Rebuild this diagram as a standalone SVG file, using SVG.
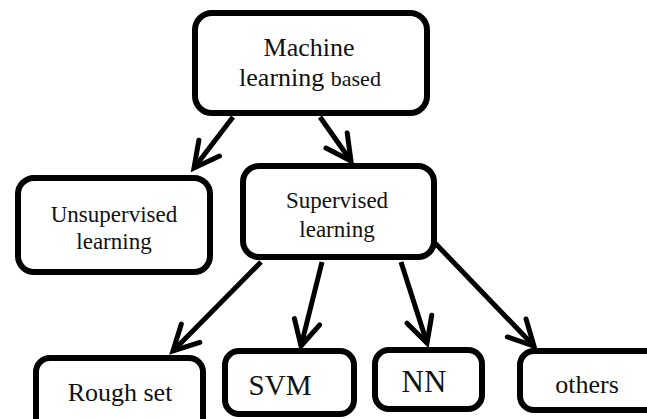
<svg xmlns="http://www.w3.org/2000/svg" width="647" height="419" viewBox="0 0 647 419">
<defs>
<marker id="arr" markerUnits="userSpaceOnUse" markerWidth="40" markerHeight="40" viewBox="-30 -20 35 40" refX="0" refY="0" orient="auto" overflow="visible">
<path d="M-25,-13 L0,0 L-25,13" fill="none" stroke="#000" stroke-width="5" stroke-linecap="round" stroke-linejoin="miter"/>
</marker>
</defs>
<style>
.box{fill:#fff;stroke:#000;stroke-width:6}
.t{font-family:"Liberation Serif","Times New Roman",serif;fill:#111;text-anchor:middle}
.c{stroke:#000;stroke-width:5;fill:none;marker-end:url(#arr)}
</style>
<rect width="647" height="419" fill="#fff"/>
<g id="connectors">
<line class="c" x1="233" y1="117" x2="194" y2="168"/>
<line class="c" x1="320" y1="117" x2="351" y2="161"/>
<line class="c" x1="261" y1="262" x2="173" y2="351"/>
<line class="c" x1="322" y1="262" x2="301" y2="346"/>
<line class="c" x1="401" y1="262" x2="427" y2="343"/>
<line class="c" x1="435" y1="243" x2="534" y2="346"/>
</g>
<g id="n-machine">
<rect class="box" x="195" y="13" width="232" height="100" rx="17"/>
<text class="t" x="309" y="56" font-size="26">Machine</text>
<text class="t" x="310" y="86" font-size="26">learning <tspan font-size="22">based</tspan></text>
</g>
<g id="n-unsup">
<rect class="box" x="18" y="178" width="192" height="94" rx="16"/>
<text class="t" x="114" y="222" font-size="23">Unsupervised</text>
<text class="t" x="114" y="249" font-size="23">learning</text>
</g>
<g id="n-sup">
<rect class="box" x="243" y="166" width="191" height="91" rx="16"/>
<text class="t" x="337" y="208" font-size="23">Supervised</text>
<text class="t" x="337" y="237" font-size="23">learning</text>
</g>
<g id="n-rough">
<rect class="box" x="36" y="358" width="167" height="80" rx="14"/>
<text class="t" x="120" y="401" font-size="26">Rough set</text>
</g>
<g id="n-svm">
<rect class="box" x="225" y="351" width="129" height="63" rx="14"/>
<text class="t" x="280" y="395" font-size="29">SVM</text>
</g>
<g id="n-nn">
<rect class="box" x="375" y="350" width="107" height="59" rx="14"/>
<text class="t" x="424" y="392" font-size="31">NN</text>
</g>
<g id="n-others">
<rect class="box" x="520" y="351" width="150" height="59" rx="14"/>
<text class="t" x="587" y="393" font-size="26">others</text>
</g>
</svg>
